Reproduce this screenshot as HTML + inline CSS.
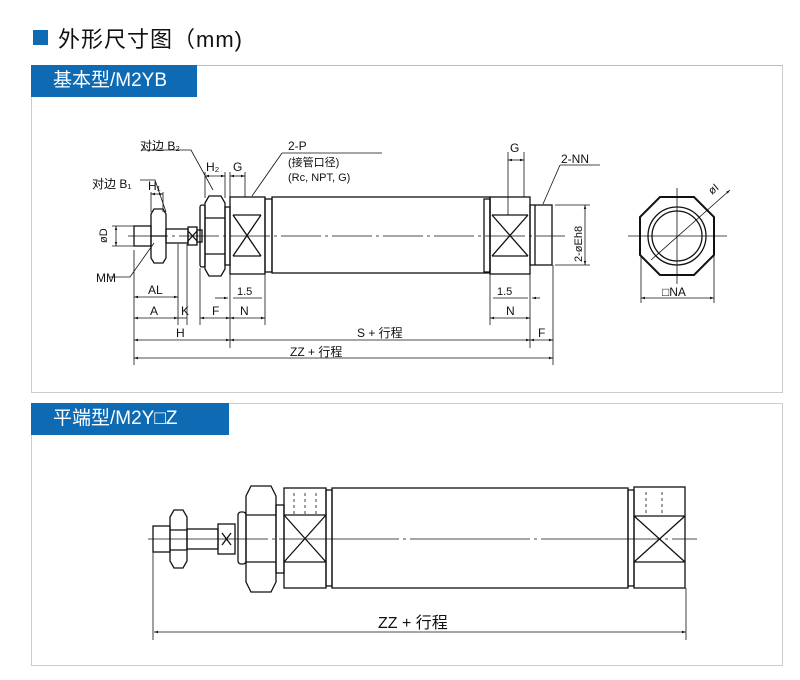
<!DOCTYPE html>
<html><head><meta charset="utf-8"><style>
body{margin:0;width:800px;height:680px;background:#fff;overflow:hidden;font-family:"Liberation Sans","Noto Sans CJK SC",sans-serif}
.t{position:absolute}
</style></head><body>
<div class="t" style="left:33px;top:30px;width:15px;height:15px;background:#0e6bb3"></div>
<div class="t" style="left:58px;top:22px;font-size:22px;color:#111;letter-spacing:1px">外形尺寸图（mm)</div>
<div class="t" style="left:31px;top:65px;width:750px;height:326px;border:1px solid #ccc;border-top:1px solid #bbb"></div>
<div class="t" style="left:31px;top:65px;width:166px;height:32px;background:#0e6bb3;color:#fff;font-size:19px;line-height:32px;text-indent:22px">基本型/M2YB</div>
<div class="t" style="left:31px;top:403px;width:750px;height:261px;border:1px solid #ccc"></div>
<div class="t" style="left:31px;top:403px;width:198px;height:32px;background:#0e6bb3;color:#fff;font-size:19px;line-height:32px;text-indent:22px">平端型/M2Y□Z</div>
<svg class="t" style="left:0;top:0" width="800" height="680" viewBox="0 0 800 680">
<defs><marker id="a" viewBox="0 0 10 10" refX="10" refY="5" markerWidth="6" markerHeight="5" orient="auto-start-reverse"><path d="M0,2L10,5L0,8z" fill="#111"/></marker></defs>
<g fill="none" stroke="#111" stroke-width="1.3">
<line x1="128" y1="236" x2="565" y2="236" stroke-dasharray="40 4 3 4" stroke-width="0.8"/>
<rect x="134" y="226" width="17" height="20"/>
<path d="M151,214 l3,-5 h9 l3,5 v44 l-3,5 h-9 l-3,-5z M151,236 h15"/>
<rect x="166" y="229" width="22" height="14"/>
<rect x="188" y="227" width="9" height="18"/><path d="M188,231 l9,10 M197,231 l-9,10"/>
<rect x="197" y="230" width="5" height="12"/>
<rect x="200" y="205" width="5" height="62" rx="2"/>
<path d="M205,203 l4,-7 h12 l4,7 v66 l-4,7 h-12 l-4,-7z M205,218 h20 M205,254 h20"/>
<rect x="225" y="207" width="5" height="58"/>
<rect x="230" y="197" width="35" height="77"/>
<path d="M233,215 h28 M233,256 h28 M233,215 l28,41 M261,215 l-28,41"/>
<rect x="265" y="199" width="7" height="73"/>
<rect x="272" y="197" width="218" height="76"/>
<rect x="484" y="199" width="6" height="73"/>
<rect x="490" y="197" width="40" height="77"/>
<path d="M492,215 h36 M492,256 h36 M492,215 l36,41 M528,215 l-36,41"/>
<rect x="530" y="205" width="22" height="60"/><line x1="535" y1="205" x2="535" y2="265"/>
<line x1="628" y1="236" x2="727" y2="236" stroke-width="0.8"/><line x1="677" y1="188" x2="677" y2="284" stroke-width="0.8"/>
<path d="M660,197 h34 l20,20 v38 l-20,20 h-34 l-20,-20 v-38z" stroke-width="2"/>
<circle cx="677" cy="236" r="29"/><circle cx="677" cy="236" r="25"/>
<line x1="651" y1="260" x2="730" y2="190" marker-end="url(#a)" stroke-width="0.8"/>
<g stroke-width="0.8">
<line x1="641" y1="256" x2="641" y2="303"/><line x1="714" y1="256" x2="714" y2="303"/>
<line x1="641" y1="298" x2="714" y2="298" marker-start="url(#a)" marker-end="url(#a)"/>
<line x1="134" y1="250" x2="134" y2="365"/><line x1="178" y1="244" x2="178" y2="325"/><line x1="187" y1="244" x2="187" y2="325"/>
<line x1="200" y1="268" x2="200" y2="325"/><line x1="230" y1="274" x2="230" y2="348"/><line x1="265" y1="274" x2="265" y2="325"/>
<line x1="134" y1="297" x2="178" y2="297" marker-start="url(#a)" marker-end="url(#a)"/>
<line x1="134" y1="318" x2="178" y2="318" marker-start="url(#a)" marker-end="url(#a)"/>
<line x1="178" y1="318" x2="187" y2="318"/>
<line x1="200" y1="318" x2="230" y2="318" marker-start="url(#a)" marker-end="url(#a)"/>
<line x1="230" y1="318" x2="265" y2="318" marker-start="url(#a)" marker-end="url(#a)"/>
<line x1="215" y1="298" x2="228" y2="298" marker-end="url(#a)"/><line x1="233" y1="298" x2="262" y2="298"/>
<line x1="134" y1="340" x2="230" y2="340" marker-start="url(#a)" marker-end="url(#a)"/>
<line x1="230" y1="340" x2="530" y2="340" marker-start="url(#a)" marker-end="url(#a)"/>
<line x1="134" y1="358" x2="553" y2="358" marker-start="url(#a)" marker-end="url(#a)"/>
<line x1="490" y1="274" x2="490" y2="325"/><line x1="530" y1="274" x2="530" y2="348"/><line x1="553" y1="265" x2="553" y2="365"/>
<line x1="490" y1="318" x2="530" y2="318" marker-start="url(#a)" marker-end="url(#a)"/>
<line x1="530" y1="340" x2="553" y2="340" marker-start="url(#a)" marker-end="url(#a)"/>
<line x1="493" y1="298" x2="528" y2="298"/><line x1="532" y1="298" x2="540" y2="298" marker-start="url(#a)"/>
<line x1="112" y1="226" x2="134" y2="226"/><line x1="112" y1="246" x2="134" y2="246"/>
<line x1="116" y1="226" x2="116" y2="246" marker-start="url(#a)" marker-end="url(#a)"/>
<line x1="555" y1="205" x2="590" y2="205"/><line x1="555" y1="265" x2="590" y2="265"/>
<line x1="585" y1="205" x2="585" y2="265" marker-start="url(#a)" marker-end="url(#a)"/>
<line x1="151" y1="192" x2="151" y2="212"/><line x1="163" y1="192" x2="163" y2="212"/><line x1="151" y1="194" x2="163" y2="194" marker-start="url(#a)" marker-end="url(#a)"/>
<line x1="205" y1="172" x2="205" y2="198"/><line x1="225" y1="172" x2="225" y2="198"/><line x1="205" y1="176" x2="225" y2="176" marker-start="url(#a)" marker-end="url(#a)"/>
<line x1="230" y1="172" x2="230" y2="197"/><line x1="245" y1="172" x2="245" y2="197"/><line x1="230" y1="176" x2="245" y2="176" marker-start="url(#a)" marker-end="url(#a)"/>
<line x1="508" y1="152" x2="508" y2="215"/><line x1="524" y1="152" x2="524" y2="197"/><line x1="508" y1="160" x2="524" y2="160" marker-start="url(#a)" marker-end="url(#a)"/>
<path d="M140,180 h15 l11,32 M141,150 h50 l22,40 M110,277 h20 l24,-34"/>
<path d="M282,153 h100 M282,153 l-30,43"/><path d="M560,165 h40 M560,165 l-17,39"/>
</g>
<!-- bottom -->
<line x1="148" y1="539" x2="697" y2="539" stroke-dasharray="120 4 3 4" stroke-width="0.8"/>
<rect x="153" y="526" width="17" height="26"/>
<path d="M170,517 l4,-7 h9 l4,7 v44 l-4,7 h-9 l-4,-7z M170,530 h17 M170,550 h17"/>
<rect x="187" y="529" width="31" height="20"/>
<rect x="218" y="524" width="17" height="30"/><path d="M222,533 l9,12 M231,533 l-9,12"/>
<rect x="238" y="512" width="8" height="52" rx="3"/>
<path d="M246,496 l5,-10 h20 l5,10 v86 l-5,10 h-20 l-5,-10z M246,515 h30 M246,562 h30"/>
<rect x="276" y="505" width="8" height="68"/>
<rect x="284" y="488" width="42" height="100"/>
<path d="M284,515 h42 M284,562 h42 M284,515 l42,47 M326,515 l-42,47"/>
<rect x="326" y="490" width="6" height="96"/>
<rect x="332" y="488" width="296" height="100"/>
<rect x="628" y="490" width="6" height="96"/>
<rect x="634" y="487" width="51" height="101"/>
<path d="M634,516 h51 M634,562 h51 M634,516 l51,46 M685,516 l-51,46"/>
<g stroke-width="0.8"><line x1="153" y1="552" x2="153" y2="640"/><line x1="686" y1="588" x2="686" y2="640"/>
<line x1="154" y1="632" x2="686" y2="632" marker-start="url(#a)" marker-end="url(#a)"/>
<path d="M294,493v22 M305,493v22 M316,493v22 M646,492v22 M662,492v22" stroke-dasharray="3 3"/></g>
</g>
<g font-size="12" fill="#111" font-family="Liberation Sans,Noto Sans CJK SC,sans-serif">
<text x="140" y="150">对边 B₂</text><text x="92" y="188">对边 B₁</text>
<text x="148" y="190">H₁</text><text x="206" y="171">H₂</text><text x="233" y="171">G</text>
<text x="288" y="150">2-P</text><text x="288" y="166" font-size="11">(接管口径)</text><text x="288" y="181" font-size="11">(Rc, NPT, G)</text>
<text x="510" y="152">G</text><text x="561" y="163">2-NN</text>
<text x="107" y="243" transform="rotate(-90 107 243)" font-size="11">øD</text>
<text x="96" y="282">MM</text>
<text x="148" y="294">AL</text><text x="150" y="315">A</text><text x="181" y="315">K</text><text x="212" y="315">F</text><text x="240" y="315">N</text>
<text x="237" y="295" font-size="11">1.5</text><text x="497" y="295" font-size="11">1.5</text>
<text x="176" y="337">H</text><text x="357" y="337">S + 行程</text><text x="290" y="356">ZZ + 行程</text>
<text x="506" y="315">N</text><text x="538" y="337">F</text>
<text x="582" y="262" transform="rotate(-90 582 262)" font-size="11">2-øEh8</text>
<text x="662" y="296">□NA</text><text x="712" y="195" transform="rotate(-40 712 195)" font-size="11">øI</text>
<text x="378" y="628" font-size="16">ZZ + 行程</text>
</g>
</svg>
</body></html>
